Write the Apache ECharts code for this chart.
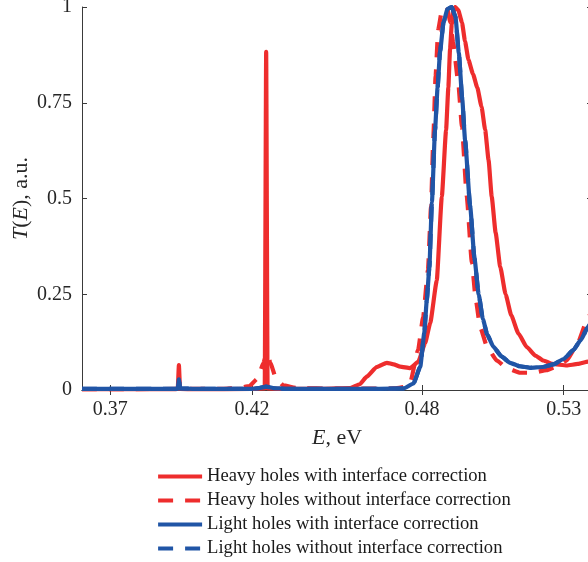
<!DOCTYPE html>
<html>
<head>
<meta charset="utf-8">
<script src="https://cdn.jsdelivr.net/npm/echarts@6/dist/echarts.min.js"></script>
<style>
  html, body { margin: 0; padding: 0; overflow: hidden; background: #fff; }
  #chart { width: 592px; height: 562px; }
</style>
</head>
<body>
<div id="chart"></div>
<script>
// Transmission spectra T(E) for heavy and light holes, [E (eV), T (a.u.)]
const heavyWith = [
  [0.360, 0.002], [0.3930, 0.002], [0.3938, 0.003], [0.3942, 0.065], [0.3946, 0.003],
  [0.400, 0.002], [0.420, 0.003], [0.4245, 0.004], [0.4250, 0.883], [0.4255, 0.004],
  [0.430, 0.003], [0.445, 0.003], [0.4547, 0.005], [0.4580, 0.015], [0.4605, 0.035],
  [0.4640, 0.060], [0.4676, 0.071], [0.4700, 0.067], [0.4723, 0.061], [0.4758, 0.057],
  [0.4787, 0.074], [0.4811, 0.122], [0.4829, 0.175], [0.4852, 0.285], [0.4870, 0.505],
  [0.4885, 0.679], [0.4893, 0.790], [0.4899, 0.890], [0.4905, 0.955], [0.4911, 0.990],
  [0.4917, 1.000], [0.4928, 0.992], [0.4941, 0.960], [0.4952, 0.910], [0.4964, 0.862],
  [0.4980, 0.825], [0.4995, 0.790], [0.5010, 0.740], [0.5023, 0.679], [0.5035, 0.600],
  [0.5046, 0.505], [0.5060, 0.410], [0.5076, 0.322], [0.5095, 0.250], [0.5115, 0.195],
  [0.5140, 0.148], [0.5170, 0.112], [0.5200, 0.090], [0.5228, 0.077], [0.5260, 0.068],
  [0.5311, 0.064], [0.5350, 0.068], [0.5386, 0.074], [0.5400, 0.077]
];
const heavyWithout = [
  [0.360, 0.002], [0.410, 0.003], [0.415, 0.005], [0.419, 0.010], [0.422, 0.030],
  [0.424, 0.070], [0.4253, 0.100], [0.4265, 0.070], [0.4285, 0.030], [0.431, 0.012],
  [0.436, 0.005], [0.450, 0.003], [0.470, 0.004], [0.4740, 0.008], [0.4758, 0.018],
  [0.4786, 0.104], [0.4804, 0.190], [0.4821, 0.313], [0.4832, 0.480], [0.4840, 0.660],
  [0.4848, 0.820], [0.4857, 0.940], [0.4870, 0.990], [0.4888, 1.000], [0.4900, 0.960],
  [0.4910, 0.906], [0.4928, 0.802], [0.4941, 0.687], [0.4958, 0.505], [0.4976, 0.332],
  [0.4990, 0.235], [0.5005, 0.165], [0.5030, 0.112], [0.5064, 0.077], [0.5100, 0.057],
  [0.5146, 0.045], [0.5190, 0.045], [0.5240, 0.052], [0.5280, 0.063], [0.5311, 0.077],
  [0.5346, 0.117], [0.5386, 0.188], [0.5400, 0.210]
];
const lightWith = [
  [0.360, 0.003], [0.3935, 0.003], [0.3938, 0.004], [0.3942, 0.028], [0.3946, 0.004],
  [0.400, 0.003], [0.420, 0.003], [0.4225, 0.005], [0.4250, 0.009], [0.4275, 0.005],
  [0.432, 0.003], [0.465, 0.003], [0.4735, 0.004], [0.4770, 0.017], [0.4794, 0.061],
  [0.4808, 0.149], [0.4817, 0.235], [0.4826, 0.320], [0.4835, 0.490], [0.4846, 0.679],
  [0.4855, 0.790], [0.4864, 0.885], [0.4876, 0.960], [0.4890, 0.995], [0.4905, 1.000],
  [0.4918, 0.975], [0.4930, 0.880], [0.4942, 0.760], [0.4952, 0.653], [0.4970, 0.480],
  [0.4985, 0.345], [0.5000, 0.250], [0.5015, 0.185], [0.5030, 0.145], [0.5052, 0.113],
  [0.5080, 0.088], [0.5111, 0.071], [0.5145, 0.062], [0.5182, 0.058], [0.5225, 0.060],
  [0.5264, 0.067], [0.5300, 0.081], [0.5334, 0.104], [0.5360, 0.130], [0.5386, 0.165],
  [0.5400, 0.180]
];
const lightWithout = [
  [0.360, 0.003], [0.3935, 0.003], [0.3938, 0.004], [0.3942, 0.028], [0.3946, 0.004],
  [0.400, 0.003], [0.420, 0.003], [0.4225, 0.005], [0.4250, 0.009], [0.4275, 0.005],
  [0.432, 0.003], [0.465, 0.003], [0.4735, 0.004], [0.4770, 0.017], [0.4794, 0.061],
  [0.4808, 0.149], [0.4817, 0.235], [0.4826, 0.320], [0.4835, 0.490], [0.4846, 0.679],
  [0.4855, 0.790], [0.4864, 0.885], [0.4876, 0.960], [0.4890, 0.995], [0.4905, 1.000],
  [0.4918, 0.975], [0.4930, 0.880], [0.4942, 0.760], [0.4952, 0.653], [0.4970, 0.480],
  [0.4985, 0.345], [0.5000, 0.250], [0.5015, 0.185], [0.5030, 0.145], [0.5052, 0.113],
  [0.5080, 0.088], [0.5111, 0.071], [0.5145, 0.062], [0.5182, 0.058], [0.5225, 0.060],
  [0.5264, 0.067], [0.5300, 0.081], [0.5334, 0.104], [0.5360, 0.130], [0.5386, 0.165],
  [0.5400, 0.180]
];

const seriesNames = [
  'Heavy holes with interface correction',
  'Heavy holes without interface correction',
  'Light holes with interface correction',
  'Light holes without interface correction'
];
const xTicks = [0.37, 0.42, 0.48, 0.53];
const xTickLabels = ['0.37', '0.42', '0.48', '0.53'];
const yTicks = [0, 0.25, 0.5, 0.75, 1];
const yTickLabels = ['0', '0.25', '0.5', '0.75', '1'];

const RED = '#EE2D2D';
const BLUE = '#2055A6';
const AXIS = '#3a3a3a';
const TEXT = '#262626';
const FONT = '"Liberation Serif", "DejaVu Serif", serif';
const LINE_W = 4.2;

function axisBox(extra) {
  return Object.assign({
    type: 'value',
    axisLine: { show: true, lineStyle: { color: AXIS, width: 1 } },
    axisTick: { show: true, inside: true, length: 5, lineStyle: { color: AXIS } },
    splitLine: { show: false }
  }, extra);
}

const chart = echarts.init(document.getElementById('chart'), null, { renderer: 'canvas' });

const lineSeries = (name, data, color, dashed, z) => ({
  name: name,
  type: 'line',
  data: data,
  showSymbol: false,
  symbol: 'none',
  smooth: 0.15,
  smoothMonotone: 'x',
  z: z,
  lineStyle: { color: color, width: LINE_W, type: dashed ? [15, 12] : 'solid', cap: 'butt', join: 'round' },
  itemStyle: { color: color },
  emphasis: { disabled: true },
  animation: false
});

const nameStyle = {
  color: TEXT, fontFamily: FONT, fontSize: 22,
  rich: { i: { fontStyle: 'italic', fontFamily: FONT, fontSize: 22, color: TEXT } }
};

chart.setOption({
  animation: false,
  grid: { left: 82, right: 0, top: 7, bottom: 172, containLabel: false, outerBoundsMode: 'none' },
  xAxis: [
    axisBox({
      position: 'bottom', min: 0.36, max: 0.54,
      axisTick: { show: true, inside: true, length: 5, lineStyle: { color: AXIS }, customValues: xTicks },
      axisLabel: {
        customValues: xTicks, margin: 10,
        formatter: v => xTickLabels[xTicks.findIndex(t => Math.abs(t - v) < 1e-9)] || '',
        color: TEXT, fontFamily: FONT, fontSize: 20
      },
      name: '{i|E}, eV', nameLocation: 'middle', nameGap: 37, nameMoveOverlap: false,
      nameTextStyle: nameStyle
    }),
    axisBox({
      position: 'top', min: 0.36, max: 0.54,
      axisTick: { show: true, inside: true, length: 5, lineStyle: { color: AXIS }, customValues: xTicks },
      axisLabel: { show: false }
    })
  ],
  yAxis: [
    axisBox({
      position: 'left', min: 0, max: 1, interval: 0.25,
      axisLabel: {
        margin: 10,
        formatter: v => yTickLabels[yTicks.findIndex(t => Math.abs(t - v) < 1e-9)] || '',
        color: TEXT, fontFamily: FONT, fontSize: 20
      },
      name: '{i|T}({i|E}), a.u.', nameLocation: 'middle', nameGap: 50, nameRotate: 90,
      nameMoveOverlap: false,
      nameTextStyle: nameStyle
    }),
    axisBox({
      position: 'right', min: 0, max: 1, interval: 0.25,
      axisLabel: { show: false }
    })
  ],
  legend: {
    orient: 'vertical',
    left: 156, top: 467, height: 100, padding: 0,
    itemWidth: 44, itemHeight: 14, itemGap: 5,
    itemStyle: { opacity: 0 },
    lineStyle: { width: LINE_W },
    data: seriesNames,
    textStyle: { color: '#1a1a1a', fontFamily: FONT, fontSize: 18.6, lineHeight: 18.3 },
    selectedMode: false
  },
  series: [
    lineSeries(seriesNames[0], heavyWith, RED, false, 2),
    lineSeries(seriesNames[1], heavyWithout, RED, true, 3),
    lineSeries(seriesNames[2], lightWith, BLUE, false, 4),
    lineSeries(seriesNames[3], lightWithout, BLUE, true, 5)
  ]
});
</script>
</body>
</html>
